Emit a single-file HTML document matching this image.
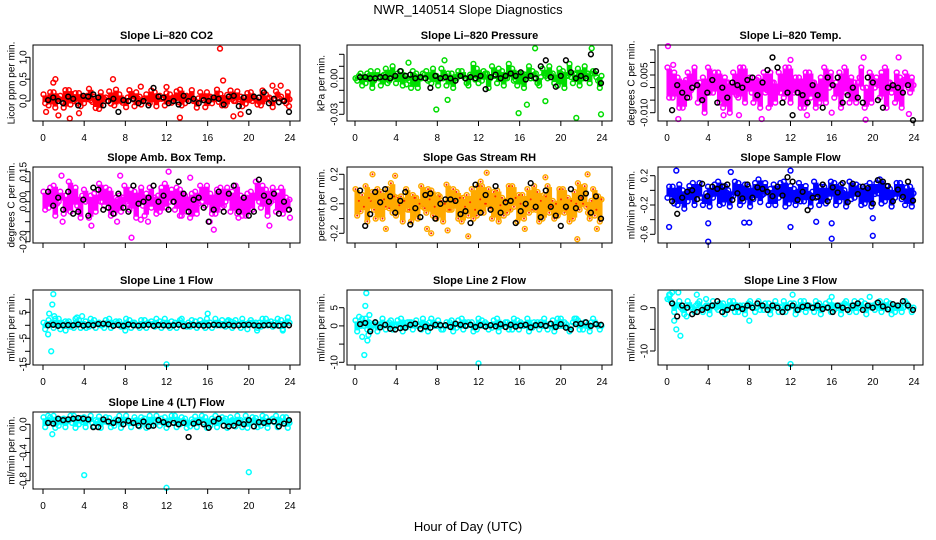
<!DOCTYPE html>
<html><head><meta charset="utf-8"><title>NWR_140514 Slope Diagnostics</title>
<style>
html,body{margin:0;padding:0;background:#fff;}
svg{display:block;font-family:"Liberation Sans",Arial,sans-serif;}
</style></head>
<body>
<svg id="chart" width="936" height="540" viewBox="0 0 936 540" xmlns="http://www.w3.org/2000/svg">
<rect width="936" height="540" fill="#fff"/>
<text x="468" y="14" text-anchor="middle" font-size="13">NWR_140514  Slope Diagnostics</text>
<text x="468" y="531" text-anchor="middle" font-size="13">Hour of Day (UTC)</text>
</svg>
<script>
const xTicks = [0,4,8,12,16,20,24];

const co2A = [0.15,-0.1,0.2,0.05,-0.15,0.25,0.0,0.18,-0.05,0.28,0.1,-0.18,0.05,0.22,-0.1,0.15,0.02,0.25,-0.12,0.1,0.06,-0.05,0.2,0.12,-0.1,0.15,0.05,0.26,-0.05,0.1,0.0,0.2,-0.14,0.1,0.05,0.16,-0.1,0.24,0.0,0.1,-0.06,0.2,0.05,-0.1,0.15,0.0,0.22,0.1,-0.05];
const co2B = [-0.05,0.2,-0.15,0.12,0.25,-0.08,0.18,-0.12,0.1,0.02,-0.16,0.2,0.08,-0.06,0.26,0.0,-0.14,0.1,0.2,-0.08,0.15,0.24,-0.12,0.05,0.18,-0.04,0.22,-0.1,0.12,0.25,-0.15,0.06,0.2,-0.05,0.26,-0.1,0.14,0.04,0.22,-0.12,0.18,0.0,-0.08,0.24,0.06,-0.14,0.15,0.02,0.2];
const co2C = [0.05,0.0,0.08,-0.02,0.1,0.04,-0.04,0.06,0.12,-0.02,0.04,0.08,0.0,0.1,0.02,-0.04,0.08,0.04,0.06,0.0,-0.02,0.1,0.04,0.06,0.02,0.08,-0.02,0.04,0.1,0.0,0.06,0.02,0.08,0.04,-0.02,0.06,0.1,0.0,0.04,0.08,0.02,0.06,-0.02,0.04,0.08,0.02,0.06,0.0,0.04];
const co2K = [0.02,0.08,0.0,-0.05,0.1,0.05,-0.1,0.12,0.1,0.15,0.08,-0.1,0.0,0.05,-0.25,0.02,0.0,0.05,-0.05,0.0,-0.1,0.3,0.1,0.08,-0.05,0.0,-0.08,0.12,0.0,0.05,-0.05,0.02,0.0,0.08,0.05,-0.08,0.1,0.12,-0.12,0.08,-0.25,0.1,0.08,0.2,-0.05,0.05,-0.03,0.0,-0.25];
const co2OutT = [0.3,1.0,1.2,1.5,2.6,3.5,6.8,9.5,12,13.3,17.2,17.5,18.5,19.2,22.3,23.1,23.9];
const co2OutV = [-0.25,0.42,0.5,-0.33,-0.4,-0.28,0.5,0.33,0.32,-0.38,1.2,0.47,-0.35,-0.3,0.35,0.35,-0.12];

const presA = [0.0,0.004,-0.004,0.006,0.002,-0.006,0.008,0.0,-0.004,0.006,0.002,-0.008,0.004,0.0,0.006,-0.004,0.002,0.008,-0.006,0.004,0.0,0.006,-0.004,0.002,0.008,-0.002,0.004,0.01,-0.004,0.006,0.0,0.008,-0.006,0.004,0.002,0.006,-0.004,0.008,0.0,0.004,-0.006,0.006,0.002,-0.004,0.008,0.0,0.004,0.006,-0.002];
const presB = [-0.002,-0.006,0.004,-0.008,0.006,0.002,-0.004,0.01,0.004,-0.006,0.0,0.006,-0.008,0.004,-0.002,0.008,-0.006,0.0,0.004,-0.008,0.006,0.002,-0.006,0.012,-0.004,0.006,-0.008,0.002,0.008,-0.006,0.012,-0.002,0.004,-0.008,0.01,0.0,-0.006,0.004,0.01,-0.004,0.008,-0.008,0.012,0.004,-0.006,0.01,-0.004,0.004,-0.008];
const presC = [0.002,0.0,0.002,-0.002,0.0,0.003,-0.002,0.001,0.002,0.0,-0.002,0.002,0.0,0.003,-0.001,0.002,0.0,0.003,-0.002,0.001,0.002,0.0,0.003,-0.001,0.002,0.004,0.0,0.002,0.003,0.0,0.004,-0.001,0.002,0.003,0.0,0.004,0.001,0.002,0.003,0.0,0.004,0.002,0.001,0.003,0.0,0.002,0.004,0.001,0.002];
const presK = [0.001,0.001,0.0,0.0,0.001,0.001,0.0,0.002,0.006,0.002,0.003,0.0,0.001,0.0,-0.008,0.002,0.0,0.001,0.0,-0.002,0.002,0.0,0.001,0.0,0.002,-0.009,0.001,0.003,0.0,0.002,0.004,0.002,0.005,-0.001,0.002,0.0,0.01,0.015,0.001,-0.007,0.002,0.015,0.005,0.0,0.002,0.0,0.02,0.006,-0.004];
const presOutT = [5,5.2,7.9,8.7,9,15.9,16.7,17.5,18.5,21.5,23,23.9];
const presOutV = [-0.005,0.013,-0.026,0.015,-0.018,-0.029,-0.022,0.025,-0.019,-0.033,0.025,-0.03];

const tempA = [0.008,-0.004,0.004,-0.008,0.006,0.0,-0.006,0.004,0.008,-0.002,0.006,-0.008,0.002,0.006,-0.004,0.008,0.0,-0.006,0.004,0.006,-0.008,0.002,0.006,-0.004,0.008,-0.002,0.004,-0.008,0.006,0.002,-0.006,0.008,0.0,-0.004,0.006,0.008,-0.006,0.002,0.004,-0.008,0.006,0.0,-0.004,0.008,0.002,-0.006,0.004,0.006,-0.002];
const tempB = [-0.004,0.006,-0.008,0.002,-0.004,0.008,0.002,-0.01,-0.002,0.006,-0.006,0.004,-0.01,-0.002,0.008,-0.006,0.004,0.002,-0.008,-0.002,0.006,-0.006,-0.002,0.008,-0.006,0.004,-0.008,0.006,-0.004,-0.008,0.004,-0.006,0.006,0.002,-0.008,-0.002,0.004,-0.006,0.008,0.0,-0.006,0.004,0.006,-0.008,-0.002,0.006,-0.008,0.002,0.004];
const tempC = [0.002,0.0,-0.002,0.003,-0.001,0.002,0.0,-0.002,0.003,0.001,-0.002,0.002,0.0,-0.003,0.002,0.001,-0.002,0.003,0.0,-0.001,0.002,-0.002,0.003,0.0,-0.001,0.002,0.001,-0.003,0.002,0.0,-0.002,0.003,0.001,-0.002,0.0,0.003,-0.001,0.002,0.0,-0.002,0.003,0.001,-0.002,0.002,0.0,-0.001,0.003,0.0,0.001];
const tempK = [-0.009,0.001,-0.002,-0.004,0.0,0.001,-0.005,-0.002,0.003,-0.006,0.0,-0.004,0.002,0.001,0.0,0.003,0.004,-0.003,0.002,0.007,0.012,0.008,-0.006,-0.002,-0.011,-0.002,-0.003,-0.006,0.001,-0.003,-0.008,0.004,0.001,0.004,-0.006,-0.003,0.0,-0.004,-0.006,0.004,0.002,-0.005,-0.008,0.0,0.001,0.0,-0.002,0.001,-0.013];
const tempOutT = [0.1,0.6,1.1,5.5,7.0,9.2,12.0,13.6,16.0,19.1,19.3,22.5,23.5];
const tempOutV = [0.0165,0.009,-0.0125,-0.011,-0.011,-0.0125,0.011,-0.011,-0.01,0.012,-0.0128,0.012,-0.0105];

const ambA = [0.05,-0.03,0.08,0.0,-0.06,0.1,0.02,-0.04,0.06,-0.08,0.04,0.09,-0.02,0.06,-0.06,0.03,0.08,-0.04,0.05,0.0,-0.07,0.07,0.02,-0.05,0.09,0.0,-0.04,0.06,0.03,-0.08,0.05,0.08,-0.02,0.04,-0.06,0.07,0.0,-0.05,0.08,0.03,-0.07,0.05,0.1,-0.03,0.06,0.0,-0.05,0.07,0.02];
const ambB = [-0.04,0.07,-0.07,0.05,0.03,-0.05,0.07,-0.08,0.0,0.03,-0.05,0.0,0.07,-0.07,0.02,-0.05,0.0,0.06,-0.08,0.07,0.04,-0.03,-0.06,0.07,-0.03,0.06,0.07,-0.07,-0.05,0.04,-0.06,0.0,0.08,-0.06,0.06,-0.03,0.07,0.05,-0.06,-0.07,0.04,-0.04,0.02,0.08,-0.07,0.07,0.05,-0.06,-0.04];
const ambC = [0.01,0.02,-0.01,0.03,0.0,0.02,-0.02,0.03,0.01,-0.01,0.02,0.0,0.03,-0.02,0.01,0.02,-0.01,0.0,0.03,-0.02,0.02,0.01,0.03,-0.01,0.02,0.0,-0.02,0.03,0.01,0.02,-0.01,0.03,0.0,0.02,0.01,-0.02,0.03,0.0,0.01,0.02,-0.01,0.03,0.0,0.02,-0.01,0.01,0.03,0.0,0.01];
const ambK = [0.05,-0.02,0.02,-0.04,0.05,-0.06,-0.05,0.01,-0.07,0.07,0.06,-0.04,-0.03,-0.06,0.04,-0.03,-0.05,0.08,-0.01,0.0,0.02,0.08,0.0,0.03,-0.04,0.0,0.1,0.04,-0.05,0.01,0.02,-0.03,-0.1,-0.04,0.05,-0.05,0.04,0.08,-0.05,0.02,-0.07,-0.05,0.11,0.03,0.0,0.04,-0.06,0.0,-0.04];
const ambOutT = [1.8,1.9,7.2,7.5,4.7,10.2,8.6,9.5,12.2,13.3,14.3,16.6,19.0,22.0,24.0,16.2];
const ambOutV = [0.13,-0.1,-0.1,0.13,-0.12,-0.1,-0.18,-0.09,0.15,-0.07,0.12,-0.14,-0.08,-0.12,-0.08,-0.1];

const rhA = [0.1,-0.05,0.12,0.02,-0.1,0.08,-0.02,0.14,-0.08,0.05,0.1,-0.12,0.04,0.12,-0.06,0.09,-0.1,0.02,0.13,-0.04,0.08,-0.12,0.06,0.1,-0.08,0.12,0.0,-0.1,0.09,0.04,-0.06,0.12,-0.12,0.06,0.1,-0.04,0.08,-0.1,0.12,0.02,-0.08,0.1,0.04,-0.1,0.14,0.0,-0.06,0.1,0.05];
const rhB = [-0.08,0.06,-0.12,0.08,0.1,-0.1,0.1,-0.06,0.04,-0.12,-0.04,0.06,-0.1,-0.02,0.1,-0.08,0.06,-0.12,-0.04,0.1,-0.1,0.04,-0.08,-0.1,0.12,-0.06,0.1,0.08,-0.12,-0.08,0.12,-0.02,0.06,-0.1,-0.06,0.12,-0.12,0.06,-0.06,-0.1,0.1,-0.06,-0.12,0.08,-0.04,0.12,-0.1,-0.08,-0.12];
const rhC = [0.02,-0.02,0.04,-0.04,0.0,0.03,-0.03,0.05,-0.01,0.02,-0.04,0.04,0.0,-0.03,0.03,-0.02,0.05,0.0,-0.04,0.02,0.04,-0.02,0.01,-0.04,0.03,0.0,-0.03,0.05,-0.01,0.02,-0.04,0.04,0.0,-0.02,0.03,-0.04,0.02,0.05,-0.02,0.0,0.03,-0.04,0.02,0.0,0.04,-0.02,0.02,-0.04,0.03];
const rhK = [0.09,-0.15,-0.07,0.08,0.01,0.1,0.05,-0.06,0.02,0.08,-0.14,-0.03,-0.09,0.06,0.07,-0.1,0.0,0.03,0.03,0.02,-0.07,-0.05,-0.13,0.13,-0.06,0.06,-0.04,0.12,-0.06,0.01,0.02,-0.13,-0.05,0.0,0.14,-0.02,-0.09,0.09,-0.02,-0.08,-0.15,-0.02,0.1,-0.03,0.04,0.07,-0.06,0.05,-0.1];
const rhOutT = [1.7,3.0,3.9,7.0,7.4,9.0,11.0,12.2,12.8,16.5,18.5,21.6,22.6,23.5];
const rhOutV = [0.2,-0.17,0.19,-0.17,-0.2,-0.18,-0.22,0.15,0.21,-0.17,0.18,-0.24,0.2,-0.17];

const flowA = [-0.1,0.05,-0.2,0.0,-0.15,0.1,-0.05,-0.2,0.05,-0.1,0.12,-0.18,0.0,-0.08,0.1,-0.15,0.05,-0.12,0.15,-0.05,-0.2,0.08,-0.1,0.12,-0.18,0.02,0.1,-0.15,-0.05,0.12,-0.2,0.05,-0.1,0.1,-0.15,0.0,0.12,-0.1,0.05,-0.18,0.1,-0.05,0.15,-0.15,0.02,-0.1,0.1,-0.2,0.05];
const flowB = [0.05,-0.18,0.08,-0.25,0.06,-0.2,0.1,-0.12,-0.22,0.08,-0.2,0.06,-0.22,0.12,-0.2,0.08,-0.22,0.1,-0.16,0.1,0.02,-0.2,0.1,-0.22,0.06,-0.2,-0.15,0.06,-0.22,-0.1,0.05,-0.18,0.12,-0.2,0.08,-0.22,-0.12,0.08,-0.2,0.06,-0.22,0.1,-0.18,0.06,-0.22,0.1,-0.12,0.04,-0.22];
const flowC = [-0.05,-0.02,-0.08,-0.04,-0.06,-0.02,-0.1,-0.04,-0.06,-0.02,-0.08,-0.03,-0.06,-0.02,-0.08,-0.04,-0.05,-0.02,-0.07,-0.03,-0.06,-0.01,-0.05,-0.03,-0.08,-0.02,-0.04,-0.06,-0.02,-0.05,-0.07,-0.02,-0.04,-0.06,-0.03,-0.08,-0.02,-0.05,-0.03,-0.06,-0.02,-0.04,-0.07,-0.02,-0.05,-0.03,-0.06,-0.02,-0.04];
const flowK = [-0.15,-0.32,-0.1,-0.02,0.0,-0.12,0.09,-0.08,0.05,0.02,0.05,0.08,-0.13,-0.04,-0.11,0.08,-0.1,0.04,0.02,-0.02,-0.08,0.05,-0.07,0.18,0.12,-0.13,-0.02,-0.27,-0.1,-0.09,0.08,-0.15,0.04,-0.03,0.1,-0.16,0.09,-0.05,0.05,0.03,-0.18,0.14,0.12,0.06,-0.15,0.01,-0.09,0.12,-0.14];
const flowOutT = [0.2,0.9,4.0,4.0,7.5,8.0,12.0,12.0,14.5,16.0,16.0,20.0,20.0,6.2];
const flowOutV = [-0.5,0.27,-0.45,-0.7,-0.44,-0.44,-0.5,0.27,-0.43,-0.66,-0.45,-0.38,-0.62,0.25];

const l1A = [1,2,-1,2.5,0,1.5,-1,2,0.5,-0.5,2,1,-1,2.5,0,1.5,-0.5,2,1,-1,2,0.5,-0.5,1.5,2.5,-1,1,2,0,-0.5,1.5,2,-1,1,2.5,0,-0.5,1.5,2,-1,0.5,2,1,-0.5,2.5,1.5,0,2,1];
const l1B = [-1.5,0.5,2.5,-1.5,1.5,-0.5,2.5,-1,1.5,2.5,-1,0,2,-1,1.5,-0.5,2.5,-1,0,2,-1,1.5,2.5,-1,0,1.5,-1,2.5,-0.5,2,-1,0.5,2.5,-1,0,2,1.5,-1,0.5,2.5,-1.5,1,-1,2.5,0,-0.5,2.5,-1.5,3];
const l1C = [0.5,1,0,0.5,1,0,1,0.5,0,1,0.5,0,1,0.5,1,0,0.5,1,0,0.5,1,0.5,0,1,0.5,0,1,0.5,1,0,0.5,1,0,0.5,1,0.5,0,1,0.5,0,1,0.5,1,0,0.5,1,0,0.5,1];
const l1K = [0,0.2,-0.2,0,0.1,0,0.3,-0.1,0.2,0,0.5,0.6,0.4,-0.2,0.1,-0.2,0.3,0,-0.1,0,0.2,-0.2,0.1,0,-0.1,0,0.2,-0.3,0,0.1,0,-0.1,0,0.2,0.1,0,0.2,-0.1,0,0.1,0.2,0,-0.1,0,0.1,0,-0.1,0.1,0];
const l1OutT = [0.5,0.6,0.8,0.9,1.0,1.1,2.2,3.3,3.8,4.2,8.0,12.0,16.0,20.8,23.3,18];
const l1OutV = [-3.5,4.5,-10,8,12,3.5,-2,3,3.5,-1,-2,-15,4.5,-2,-2,2];

const l2A = [1.5,0,2,-1,1,0.5,-1,1.5,0,2,-0.5,1,1.5,-1,0.5,2,0,-1,1,1.5,-0.5,2,0,1,-1,1.5,0.5,-0.5,2,0,1,-1,1.5,0.5,2,-0.5,1,0,-1,1.5,2,0,-0.5,1,1.5,-1,0.5,2,0];
const l2B = [-1.5,2,-1,0.5,-1.5,2,0.5,-1,1.5,-1.5,1,-1,0,2,-1.5,0.5,1.5,-1,0,-1.5,1.5,-1,1,-1.5,2,0,-1,1.5,-1.5,0.5,-1,2,-1,0,-1.5,1,-1,2,0.5,-1.5,0,1,-1.5,2,-1,1,-1.5,0.5,-1];
const l2C = [0.5,0,1,0.5,0,0.5,1,0,0.5,0,1,0.5,0,0.5,1,0,0.5,0,1,0.5,0,1,0.5,0,0.5,1,0,0.5,0,1,0.5,0,1,0.5,0,0.5,1,0,0.5,0,1,0.5,0,1,0.5,0,1,0.5,0];
const l2K = [0.5,0.8,-1.5,1.0,-0.4,0.3,-0.8,-1.0,-0.6,-0.5,0.3,0.6,-0.8,-0.2,-0.5,0.3,0.2,0.2,-0.3,0.6,0.3,0.0,0.3,-0.3,0.2,-0.2,0.2,-0.1,0.5,-0.3,0.3,-0.2,0.1,0.3,-0.4,0.2,0.3,0.0,0.6,-0.3,0.5,-0.5,-1.0,0.5,0.6,1.0,0.0,0.5,0.3];
const l2OutT = [0.4,0.7,0.9,1.0,1.1,1.2,1.3,1.4,12.0,20.0,21.5];
const l2OutV = [2.5,-3,-8,5.5,9,-4,-2.5,3,-10.3,2,2];

const l3A = [2,1,0.5,-0.5,1.5,0,1,-1,0.5,1.5,-0.5,1,0,1.5,-1,0.5,1,0,1.5,-0.5,1,0.5,-1,1.5,0,1,-0.5,1.5,0.5,-1,1,0,1.5,-0.5,0.5,1,-1,1.5,0,1,0.5,-0.5,1.5,0,1,-1,0.5,1.5,0];
const l3B = [3,-1,1.5,-1.5,0.5,-1,1.5,0,-1.5,0.5,1,-1.5,1.5,-1,0.5,-1.5,1.5,-1,-0.5,1,-1.5,1.5,0,-1,1,-1.5,1.5,-1,0,1.5,-1.5,1,-1,0.5,-1.5,1.5,0.5,-1,1.5,-1.5,0,1,-1,1.5,-1.5,0.5,-1,1,-1];
const l3C = [1.5,0.5,0,0.5,0,0.5,0,0.5,0.3,0,0.5,0.2,0,0.5,0,0.3,0.5,0,0.5,0.2,0,0.5,0.3,0,0.5,0,0.5,0.2,0,0.5,0.3,0,0.5,0,0.5,0.2,0,0.5,0,0.3,0.5,0,0.5,0,0.3,0.5,0,0.5,0];
const l3K = [1,-2,0.5,0,-1.5,-1,-0.5,0,0.5,1.5,-1,-0.5,0,0.2,-0.3,0.5,0,1,0.5,-0.5,0.5,0,-1,0,0.5,-0.5,0.2,0.5,0,0.5,-0.3,0,-1,0.5,0,-0.5,0.5,1,-0.5,0.5,0,1.2,0.3,-0.4,0.8,0.5,1.5,0.5,-0.5];
const l3OutT = [0.3,0.5,0.7,0.9,1.1,1.3,1.9,2.9,3.8,8.0,12.2,12.0,16.0,19.7];
const l3OutV = [3,3.5,-3,-5,3.5,-6.5,-2,3,2,-3,3,-13,2.5,2.5];

const l4A = [0.1,0.03,0.12,-0.02,0.08,0.05,0.12,0.0,0.1,0.06,-0.03,0.11,0.04,0.09,-0.02,0.12,0.06,0.02,0.1,-0.03,0.08,0.12,0.03,-0.02,0.1,0.06,0.12,0.0,0.08,-0.03,0.11,0.05,0.1,-0.02,0.12,0.04,0.08,0.1,-0.03,0.06,0.12,0.02,0.09,-0.02,0.1,0.06,0.12,0.03,0.1];
const l4B = [-0.04,0.1,-0.05,0.07,-0.04,0.12,-0.05,0.09,-0.04,0.12,0.06,-0.05,0.1,-0.04,0.07,-0.05,0.12,-0.04,0.06,0.1,-0.05,-0.02,0.12,0.08,-0.05,0.12,-0.04,0.1,-0.05,0.07,-0.04,0.12,-0.05,0.08,-0.04,0.1,-0.05,0.06,0.12,-0.04,-0.05,0.1,-0.04,0.12,-0.05,0.08,-0.04,0.1,-0.05];
const l4C = [0.03,0.05,0.02,0.06,0.04,0.02,0.05,0.03,0.06,0.02,0.04,0.05,0.03,0.02,0.06,0.04,0.03,0.05,0.02,0.06,0.04,0.03,0.05,0.02,0.04,0.06,0.03,0.05,0.02,0.04,0.06,0.03,0.02,0.05,0.04,0.06,0.03,0.02,0.05,0.04,0.03,0.06,0.02,0.05,0.04,0.03,0.06,0.04,0.02];
const l4K = [0.02,0.01,0.08,0.06,0.07,0.08,0.09,0.08,0.07,-0.04,-0.04,0.07,0.04,0.02,0.06,0.0,0.05,0.02,-0.02,0.04,-0.03,-0.02,0.06,0.03,0.0,0.02,0.0,0.02,-0.18,0.01,0.03,0.0,-0.05,0.04,0.08,-0.02,-0.03,-0.02,0.02,0.0,0.06,-0.03,0.03,0.02,0.04,0.04,-0.03,0.01,0.06];
const l4OutT = [0.9,4.0,12.0,20.0,0.5];
const l4OutV = [-0.14,-0.72,-0.9,-0.68,0.12];

const co2Ticks=[0,0.5,1], co2Labels=["0.0","0.5","1.0"];
const presTicks=[-0.03,-0.02,-0.01,0,0.01,0.02], presLabels=["-0.03","","","0.00","",""];
const tempTicks=[0.015,0.01,0.005,0,-0.005,-0.01], tempLabels=["","","0.005","","","-0.010"];
const ambTicks=[0.15,0.1,0.05,0,-0.05,-0.1,-0.15,-0.2], ambLabels=["0.15","","","0.00","","","","-0.20"];
const rhTicks=[0.2,0.1,0,-0.1,-0.2], rhLabels=["0.2","","0.0","","-0.2"];
const flowTicks=[0.2,0,-0.2,-0.4,-0.6], flowLabels=["0.2","","-0.2","","-0.6"];
const l1Ticks=[10,5,0,-5,-10,-15], l1Labels=["","5","","-5","","-15"];
const l2Ticks=[5,0,-5,-10], l2Labels=["5","0","","-10"];
const l3Ticks=[0,-5,-10], l3Labels=["0","","-10"];
const l4Ticks=[0,-0.2,-0.4,-0.6,-0.8], l4Labels=["0.0","","-0.4","","-0.8"];

const NS="http://www.w3.org/2000/svg";
const svg=document.getElementById('chart');
const cols=[{bx0:33,bx1:300,t0:43,t24:290,lab:24,tit:12},{bx0:347,bx1:612,t0:355,t24:602,lab:335,tit:322},{bx0:658,bx1:923,t0:667,t24:914,lab:645,tit:632}];
const rows=[{top:45,bot:121},{top:167,bot:243},{top:290,bot:365},{top:412,bot:489}];

const panels=[
 {name:'co2',title:'Slope Li\u2013820 CO2',yt:'Licor ppm per min.',c:0,r:0,col:'#ff0000',ref:[0,101,1,57.3],ticks:co2Ticks,labels:co2Labels,a:co2A,b:co2B,cc:co2C,k:co2K,ot:co2OutT,ov:co2OutV,xl:true},
 {name:'pressure',title:'Slope Li\u2013820 Pressure',yt:'kPa per min.',c:1,r:0,col:'#00dd00',ref:[0,78.3,-0.03,114.3],ticks:presTicks,labels:presLabels,a:presA,b:presB,cc:presC,k:presK,ot:presOutT,ov:presOutV,xl:true},
 {name:'li820-temp',title:'Slope Li\u2013820 Temp.',yt:'degrees C per min.',c:2,r:0,col:'#ff00ff',ref:[0.005,75,-0.01,112.7],ticks:tempTicks,labels:tempLabels,a:tempA,b:tempB,cc:tempC,k:tempK,ot:tempOutT,ov:tempOutV,xl:true},
 {name:'amb-box-temp',title:'Slope Amb. Box Temp.',yt:'degrees C per min.',c:0,r:1,col:'#ff00ff',ref:[0,201.7,0.15,171.7],ticks:ambTicks,labels:ambLabels,a:ambA,b:ambB,cc:ambC,k:ambK,ot:ambOutT,ov:ambOutV,xl:false},
 {name:'gas-stream-rh',title:'Slope Gas Stream RH',yt:'percent per min.',c:1,r:1,col:'#ffaa00',dot:'#ff2200',ref:[0.2,174.3,-0.2,233.3],ticks:rhTicks,labels:rhLabels,a:rhA,b:rhB,cc:rhC,k:rhK,ot:rhOutT,ov:rhOutV,xl:false},
 {name:'sample-flow',title:'Slope Sample Flow',yt:'ml/min per min.',c:2,r:1,col:'#0000ff',ref:[0.2,175.7,-0.6,234.3],ticks:flowTicks,labels:flowLabels,a:flowA,b:flowB,cc:flowC,k:flowK,ot:flowOutT,ov:flowOutV,xl:false},
 {name:'line1-flow',title:'Slope Line 1 Flow',yt:'ml/min per min.',c:0,r:2,col:'#00ffff',ref:[5,312.3,-15,364.3],ticks:l1Ticks,labels:l1Labels,a:l1A,b:l1B,cc:l1C,k:l1K,ot:l1OutT,ov:l1OutV,xl:true},
 {name:'line2-flow',title:'Slope Line 2 Flow',yt:'ml/min per min.',c:1,r:2,col:'#00ffff',ref:[5,307.7,-10,362.3],ticks:l2Ticks,labels:l2Labels,a:l2A,b:l2B,cc:l2C,k:l2K,ot:l2OutT,ov:l2OutV,xl:true},
 {name:'line3-flow',title:'Slope Line 3 Flow',yt:'ml/min per min.',c:2,r:2,col:'#00ffff',ref:[0,307.7,-10,351],ticks:l3Ticks,labels:l3Labels,a:l3A,b:l3B,cc:l3C,k:l3K,ot:l3OutT,ov:l3OutV,xl:true},
 {name:'line4-flow',title:'Slope Line 4 (LT) Flow',yt:'ml/min per min.',c:0,r:3,col:'#00ffff',ref:[0,424.3,-0.8,480.7],ticks:l4Ticks,labels:l4Labels,a:l4A,b:l4B,cc:l4C,k:l4K,ot:l4OutT,ov:l4OutV,xl:true}
];

function mk(tag,attrs,parent){const e=document.createElementNS(NS,tag);for(const k in attrs)e.setAttribute(k,attrs[k]);(parent||svg).appendChild(e);return e;}

panels.forEach(p=>{
  const C=cols[p.c],R=rows[p.r];
  const g=mk('g',{});
  
  
  const xs=t=>C.t0+(C.t24-C.t0)*t/24;
  const ys=v=>p.ref[1]+(v-p.ref[0])*(p.ref[3]-p.ref[1])/(p.ref[2]-p.ref[0]);
  const ttl=mk('text',{x:(C.bx0+C.bx1)/2,y:R.top-6,'text-anchor':'middle','font-size':'11','font-weight':'bold'},g);
  ttl.textContent=p.title;
  
  
  const yt=mk('text',{x:C.tit,y:(R.top+R.bot)/2,'text-anchor':'middle','font-size':'10','dominant-baseline':'middle',transform:`rotate(-90 ${C.tit} ${(R.top+R.bot)/2})`},g);
  yt.textContent=p.yt;
  
  
  const pts=mk('g',{},g);
  
  
  // dense band: per index, span of the three colored series
  const n=p.a.length, step=23.9/(n-1+0.66);
  p.a.forEach((v,i)=>{
    const vals=[v,p.b[i],p.cc[i]];
    const y1=ys(Math.max(...vals))+1, y2=ys(Math.min(...vals))-1;
    const t=(i+0.33)*step+0.05;
    const bl=mk('line',{x1:xs(t).toFixed(1),x2:xs(t).toFixed(1),y1:y1.toFixed(1),y2:Math.max(y1,y2).toFixed(1),stroke:p.col,'stroke-width':5.5},pts);
    
    
  });
  const dot=(t,v,col,inner)=>{
    const y=ys(v); if(y<R.top-2||y>R.bot+2)return;
    const c=mk('circle',{cx:xs(t).toFixed(1),cy:y.toFixed(1),r:2.4,fill:'none',stroke:col,'stroke-width':1.5},pts);
    
    
    if(inner){const d=mk('circle',{cx:xs(t).toFixed(1),cy:y.toFixed(1),r:1,fill:inner},pts);}
  };
  [[p.a,0],[p.b,0.33],[p.cc,0.66]].forEach(([arr,off])=>{
    arr.forEach((v,i)=>dot((i+off)*step+0.05,v,p.col,p.dot));
  });
  p.ot.forEach((t,i)=>dot(t,p.ov[i],p.col,p.dot));
  const nk=p.k.length;
  p.k.forEach((v,i)=>dot(0.5+i*23.4/(nk-1),v,'#000'));
  const box=mk('rect',{x:C.bx0,y:R.top,width:C.bx1-C.bx0,height:R.bot-R.top,fill:'none',stroke:'#000','stroke-width':1},g);
  
  
  const ya=mk('g',{},g);
  
  
  const yv=p.ticks.map(ys);
  mk('line',{x1:C.bx0-3,x2:C.bx0-3,y1:Math.min(...yv),y2:Math.max(...yv),stroke:'#000'},ya);
  p.ticks.forEach((v,i)=>{
    const y=ys(v);
    mk('line',{x1:C.bx0-3,x2:C.bx0-8,y1:y,y2:y,stroke:'#000'},ya);
    if(p.labels[i]){
      const tx=mk('text',{x:C.lab,y:y,'text-anchor':'middle','dominant-baseline':'middle','font-size':'10',transform:`rotate(-90 ${C.lab} ${y})`},ya);
      tx.textContent=p.labels[i];
      
      
    }
  });
  const xa=mk('g',{},g);
  
  
  xTicks.forEach(t=>{
    const x=xs(t);
    mk('line',{x1:x,x2:x,y1:R.bot,y2:R.bot+5,stroke:'#000'},xa);
    if(p.xl){
      const tx=mk('text',{x:x,y:R.bot+20,'text-anchor':'middle','font-size':'10'},xa);
      tx.textContent=String(t);
      
      
    }
  });
});
</script>
</body></html>
